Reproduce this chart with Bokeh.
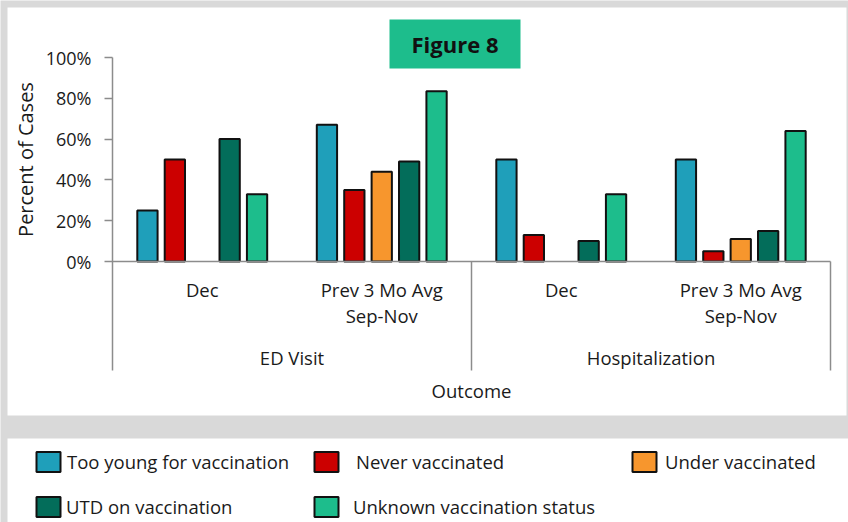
import math
from bokeh.plotting import figure
from bokeh.models import (Range1d, FixedTicker, PrintfTickFormatter,
                          Legend, LegendItem, BoxAnnotation)
from bokeh.embed import file_html
from bokeh.resources import INLINE
from bokeh.core.properties import value

# ---------------- data ----------------
outcomes = ["ED Visit", "Hospitalization"]
periods = ["Dec", "Prev 3 Mo Avg\nSep-Nov"]
statuses = ["Too young for vaccination", "Never vaccinated", "Under vaccinated",
            "UTD on vaccination", "Unknown vaccination status"]
# order of values: ED Visit/Dec, ED Visit/Prev, Hospitalization/Dec, Hospitalization/Prev
too_young = [25, 67, 50, 50]
never_vacc = [50, 35, 13, 5]
under_vacc = [None, 44, None, 11]
utd_vacc = [60, 49, 10, 15]
unknown_vacc = [33, 83.5, 33, 64]
y_ticks = [0, 20, 40, 60, 80, 100]
title_text = "Figure 8"
x_title = "Outcome"
y_title = "Percent of Cases"

series = [too_young, never_vacc, under_vacc, utd_vacc, unknown_vacc]
colors = ["#1f9fba", "#cc0000", "#f7962d", "#036d5a", "#1dbd8c"]

FONT = value("Open Sans")
TXT = "#1a1a1a"
AX = "#8c8c8c"
GRAY = "#d9d9d9"

# ---------------- layout constants ----------------
W, H = 848, 522
LEFT = 112
GAP = 1.55
PAD = GAP / 2
CL = len(statuses) + GAP
n_clusters = len(outcomes) * len(periods)
X_TOTAL = n_clusters * CL
PX_X = (830 - LEFT) / X_TOTAL
X_START = -LEFT / PX_X
X_END = (W - LEFT) / PX_X
PX_Y = 2.04
Y_END = 261 / PX_Y
Y_START = (261 - H) / PX_Y
SEP_BOTTOM = (261 - 370) / PX_Y

p = figure(width=W, height=H, x_range=Range1d(X_START, X_END), y_range=Range1d(Y_START, Y_END),
           x_axis_location=None, toolbar_location=None, output_backend="svg",
           min_border_left=0, min_border_right=0, min_border_top=0, min_border_bottom=0,
           outline_line_color=None, background_fill_color=GRAY, border_fill_color=GRAY)
p.grid.grid_line_color = None

# white panels
for (l, t, r, b) in [(7, 7, 846, 415), (7, 438, W, H)]:
    p.add_layout(BoxAnnotation(left=l, right=r, top=t, bottom=b,
                               left_units="canvas", right_units="canvas",
                               top_units="canvas", bottom_units="canvas",
                               fill_color="white", fill_alpha=1, line_color=None,
                               level="underlay"))

ya = p.yaxis[0]
ya.fixed_location = 0
ya.bounds = (SEP_BOTTOM, 100)
ya.ticker = FixedTicker(ticks=y_ticks)
ya.formatter = PrintfTickFormatter(format="%d%%")
ya.minor_tick_line_color = None
ya.major_tick_out = 8
ya.major_tick_in = 0
ya.major_tick_line_color = AX
ya.major_tick_line_width = 1.5
ya.axis_line_color = AX
ya.axis_line_width = 1.5
ya.major_label_text_font = "Open Sans"
ya.major_label_text_font_size = "18px"
ya.major_label_text_color = TXT
ya.major_label_standoff = 13

# y-axis title
p.text(x=[(25 - LEFT) / PX_X], y=[50], text=[y_title], angle=math.pi / 2, text_font=FONT,
       text_font_size="20px", text_color=TXT, text_align="center", text_baseline="middle")

# bars, one renderer per vaccination status
bar_renderers = []
for i, s in enumerate(series):
    xs, tops = [], []
    for c in range(n_clusters):
        if s[c] is None:
            continue
        xs.append(PAD + c * CL + i + 0.5)
        tops.append(s[c])
    r = p.vbar(x=xs, top=tops, bottom=0, width=0.74, fill_color=colors[i],
               line_color="#111111", line_width=2)
    bar_renderers.append(r)

# category axis lines
p.segment(x0=[0], y0=[0], x1=[X_TOTAL], y1=[0], line_color=AX, line_width=1.5)
seps = [X_TOTAL * (k + 1) / len(outcomes) for k in range(len(outcomes))]
p.segment(x0=seps, y0=[0] * len(seps), x1=seps, y1=[SEP_BOTTOM] * len(seps),
          line_color=AX, line_width=1.5)

# period labels
px, pt = [], []
for o in range(len(outcomes)):
    for k, per in enumerate(periods):
        c = o * len(periods) + k
        px.append(PAD + c * CL + len(statuses) / 2)
        pt.append(per)
p.text(x=px, y=[-7.4] * len(px), text=pt, text_font=FONT, text_font_size="18.5px",
       text_color=TXT, text_align="center", text_baseline="top", text_line_height=1.06)

# outcome labels
ox = [X_TOTAL * (k + 0.5) / len(outcomes) for k in range(len(outcomes))]
p.text(x=ox, y=[(261 - 357) / PX_Y] * len(ox), text=outcomes, text_font=FONT,
       text_font_size="18.5px", text_color=TXT, text_align="center", text_baseline="middle")
p.text(x=[X_TOTAL / 2], y=[(261 - 390) / PX_Y], text=[x_title], text_font=FONT,
       text_font_size="18.5px", text_color=TXT, text_align="center", text_baseline="middle")

# title box
tx, ty = (454.5 - LEFT) / PX_X, (261 - 43.5) / PX_Y
p.rect(x=[tx], y=[ty], width=131, height=49, width_units="screen", height_units="screen",
       fill_color="#1dbd8c", line_color=None)
p.text(x=[tx], y=[ty], text=[title_text], text_font=FONT, text_font_style="bold",
       text_font_size="22px", text_color="#111111", text_align="center", text_baseline="middle")

# legend (five single-item legends placed like the reference)
leg_pos = [(33, 47.8, 4), (311, 48.5, 15), (629, 48.5, 6), (33, 2.8, 3), (311, 2.8, 12)]
for i, name in enumerate(statuses):
    lx, ly, st = leg_pos[i]
    leg = Legend(items=[LegendItem(label=name, renderers=[bar_renderers[i]])],
                 location=(lx, ly), glyph_width=30, glyph_height=25, label_standoff=st,
                 padding=0, margin=0, spacing=0, border_line_color=None,
                 background_fill_alpha=0, label_text_font="Open Sans",
                 label_text_font_size="18.5px", label_text_color=TXT, label_height=20)
    p.add_layout(leg)

open("out.html", "w").write(file_html(p, INLINE))
